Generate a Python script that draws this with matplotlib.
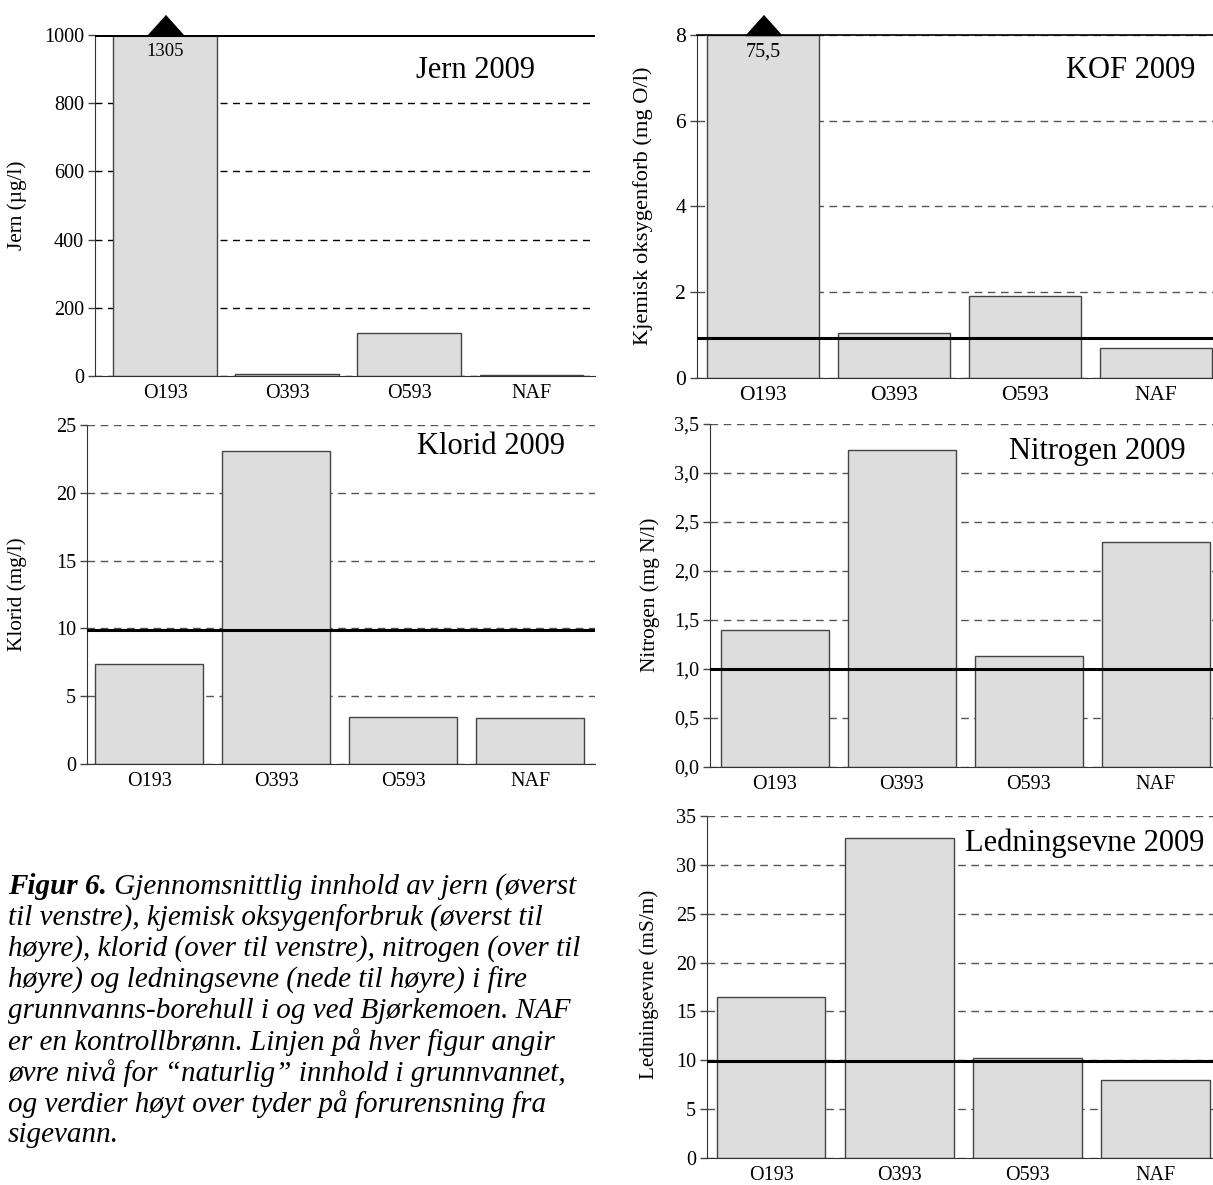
import numpy as np
import matplotlib
matplotlib.use("Agg")
import matplotlib.pyplot as plt
from matplotlib.transforms import ScaledTranslation

plt.rcParams['font.family'] = ['Liberation Serif', 'DejaVu Serif']

# data
stations = ['O193', 'O393', 'O593', 'NAF']
jern = [1305, 5, 125, 3]
kof = [75.5, 1.05, 1.92, 0.70]
klorid = [7.4, 23.1, 3.45, 3.4]
nitrogen = [1.40, 3.23, 1.13, 2.30]
ledningsevne = [16.5, 32.7, 10.2, 8.0]

# upper level for "natural" content
jern_limit = 1000
kof_limit = 0.93
klorid_limit = 9.9
nitrogen_limit = 1.0
ledning_limit = 9.9

caption = [
    "til venstre), kjemisk oksygenforbruk (øverst til",
    "høyre), klorid (over til venstre), nitrogen (over til",
    "høyre) og ledningsevne (nede til høyre) i fire",
    "grunnvanns-borehull i og ved Bjørkemoen. NAF",
    "er en kontrollbrønn. Linjen på hver figur angir",
    "øvre nivå for “naturlig” innhold i grunnvannet,",
    "og verdier høyt over tyder på forurensning fra",
    "sigevann.",
]

W, H = 1213, 1185
fig = plt.figure(figsize=(W / 100, H / 100), dpi=100)


def fmt(v, comma):
    if comma:
        return f'{v:.1f}'.replace('.', ',')
    return f'{v:g}'.replace('.', ',')


def panel(box, values, limit, ymax, ystep, title, ylabel, xlim, title_px, ylabel_px,
          comma=False, fs=14.5, lfs=15.3, grid_color='#555555', dash=(5.5, 4),
          top_line=False):
    x0, y0, x1, y1 = box
    ax = fig.add_axes([x0 / W, 1 - y1 / H, (x1 - x0) / W, (y1 - y0) / H])
    ax.set_axisbelow(True)
    shown = [min(v, ymax) for v in values]
    ax.bar(range(len(stations)), shown, width=0.85, color='#dddddd',
           edgecolor='#444444', linewidth=1.0, zorder=2)
    ax.set_xlim(*xlim)
    ax.set_ylim(0, ymax)
    ticks = np.arange(0, ymax + ystep / 2, ystep)
    ax.set_yticks(ticks)
    ax.set_yticklabels([fmt(t, comma) for t in ticks], fontsize=fs)
    ax.set_xticks(range(len(stations)))
    ax.set_xticklabels(stations, fontsize=fs)
    ax.tick_params(axis='x', length=0, pad=6)
    ax.tick_params(axis='y', length=5, width=1, color='#444444', pad=3)
    ax.yaxis.grid(True, linestyle=(0, dash), color=grid_color, linewidth=1)
    for s in ['top', 'right']:
        ax.spines[s].set_visible(False)
    for s in ['left', 'bottom']:
        ax.spines[s].set_color('#333333')
    if top_line:
        ax.axhline(ymax, color='black', linewidth=1.2, zorder=3, clip_on=False)
    ax.axhline(limit, color='black', linewidth=2.2, zorder=3)

    # values above the scale: arrow head + value
    for i, v in enumerate(values):
        if v > ymax:
            up = ax.get_xaxis_transform() + ScaledTranslation(0, 0.10, fig.dpi_scale_trans)
            ax.plot([i], [1], transform=up, marker=[(-1.8, -1), (1.8, -1), (0, 1)],
                    markersize=26, color='black', clip_on=False, zorder=4)
            down = ax.get_xaxis_transform() + ScaledTranslation(0, -0.17, fig.dpi_scale_trans)
            ax.text(i, 1, fmt(v, False), transform=down, ha='center', va='center',
                    fontsize=fs - 1, zorder=4)

    fig.text(title_px[0] / W, 1 - title_px[1] / H, title, fontsize=22,
             ha='center', va='center')
    fig.text(ylabel_px[0] / W, 1 - ylabel_px[1] / H, ylabel, fontsize=lfs,
             rotation=90, ha='center', va='center')
    return ax


panel((95, 35, 595, 376), jern, jern_limit, 1000, 200, 'Jern 2009', 'Jern (µg/l)',
      (-0.574, 3.52), (476, 70), (17, 205), grid_color='black', dash=(5, 4))
panel((697, 35, 1213, 378), kof, kof_limit, 8, 2, 'KOF 2009',
      'Kjemisk oksygenforb (mg O/l)', (-0.504, 3.435), (1131, 70), (643, 206),
      fs=15.5, lfs=16.2, top_line=True)
panel((87, 425, 595, 764), klorid, klorid_limit, 25, 5, 'Klorid 2009', 'Klorid (mg/l)',
      (-0.49, 3.51), (491, 447), (17, 594))
panel((710, 424, 1213, 767), nitrogen, nitrogen_limit, 3.5, 0.5, 'Nitrogen 2009',
      'Nitrogen (mg N/l)', (-0.51, 3.45), (1097, 452), (650, 595), comma=True)
panel((707, 816, 1213, 1158), ledningsevne, ledning_limit, 35, 5, 'Ledningsevne 2009',
      'Ledningsevne (mS/m)', (-0.5, 3.45), (1085, 843), (649, 984))

# figure caption
cfs = 21
cap = fig.add_axes([0, 0, 1, 1])
cap.axis('off')
first = cap.text(8 / W, 1 - 887 / H, 'Figur 6.', fontsize=cfs, style='italic',
                 weight='bold', va='center', ha='left')
cap.annotate(' Gjennomsnittlig innhold av jern (øverst', xy=(1, 0.5), xycoords=first,
             va='center', ha='left', fontsize=cfs, style='italic')
for k, line in enumerate(caption):
    cap.text(8 / W, 1 - (887 + 31 * (k + 1)) / H, line, fontsize=cfs, style='italic',
             va='center', ha='left')

fig.savefig('out.png', dpi=100)
